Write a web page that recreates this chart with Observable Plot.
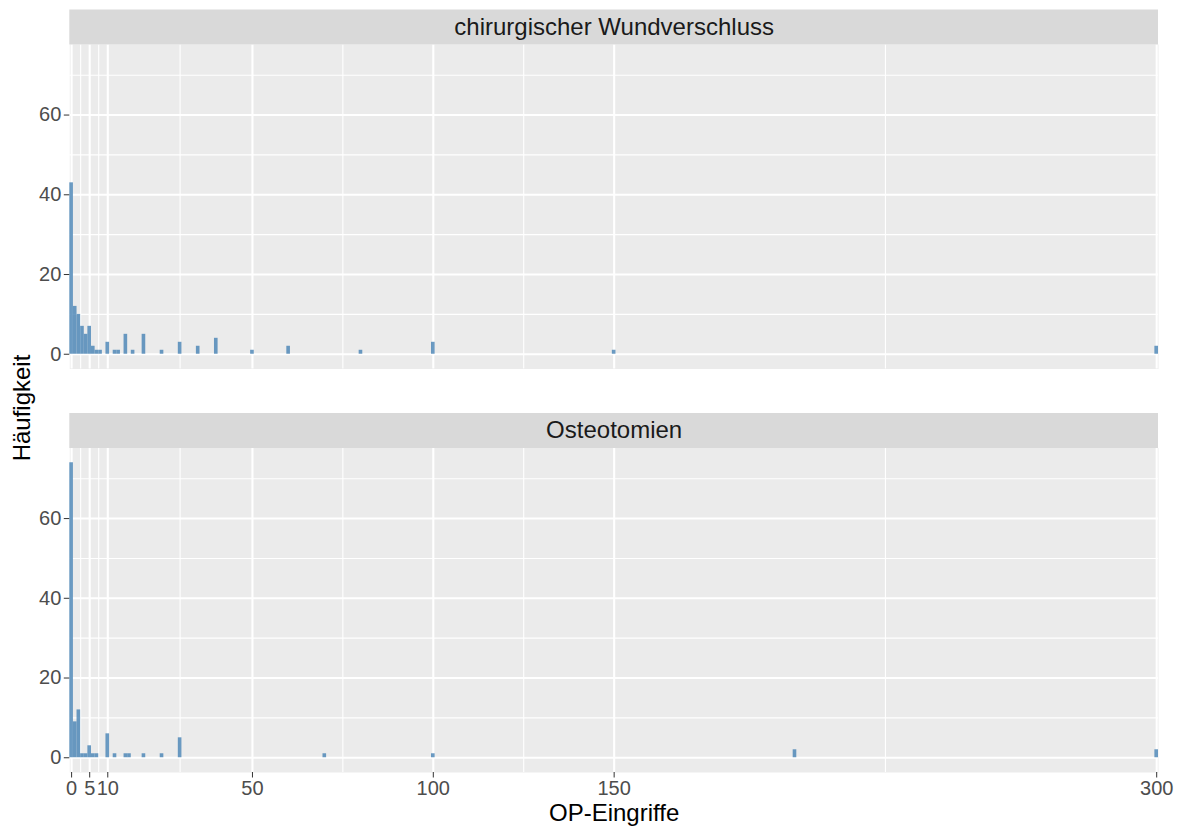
<!DOCTYPE html>
<html>
<head>
<meta charset="utf-8">
<script src="https://cdn.jsdelivr.net/npm/d3@7"></script>
<script src="https://cdn.jsdelivr.net/npm/@observablehq/plot@0.6"></script>
<style>
  html, body { margin: 0; padding: 0; background: #ffffff; }
  #wrap { position: relative; width: 1182px; height: 827px; font-family: "Liberation Sans", Arial, sans-serif; }
  #ylab { position: absolute; left: 22px; top: 408px; transform: translate(-50%, -50%) rotate(-90deg); font-size: 24px; color: #000; white-space: nowrap; }
</style>
</head>
<body>
<div id="wrap"><div id="ylab">Häufigkeit</div></div>
<script>
const panels = ["chirurgischer Wundverschluss", "Osteotomien"];

const woundValues = [0, 1, 2, 3, 4, 5, 6, 7, 8, 10, 12, 13, 15, 17, 20, 25, 30, 35, 40, 50, 60, 80, 100, 150, 300];
const woundCounts = [43, 12, 10, 7, 5, 7, 2, 1, 1, 3, 1, 1, 5, 1, 5, 1, 3, 2, 4, 1, 2, 1, 3, 1, 2];

const osteoValues = [0, 1, 2, 3, 4, 5, 6, 7, 10, 12, 15, 16, 20, 25, 30, 70, 100, 200, 300];
const osteoCounts = [74, 9, 12, 1, 1, 3, 1, 1, 6, 1, 1, 1, 1, 1, 5, 1, 1, 2, 2];

const xTicks = [0, 5, 10, 50, 100, 150, 300];
const xMinor = [2.5, 7.5, 30, 75, 125, 225];
const yTicks = [0, 20, 40, 60];
const yMinor = [10, 30, 50, 70];

const xTitle = "OP-Eingriffe";

const bars = [
  ...woundValues.map((v, i) => ({panel: panels[0], value: v, count: woundCounts[i]})),
  ...osteoValues.map((v, i) => ({panel: panels[1], value: v, count: osteoCounts[i]}))
];

const maxCount = d3.max(bars, d => d.count);
const yPad = maxCount * 0.05;
const yDomain = [-yPad, maxCount + yPad];

const chart = Plot.plot({
  width: 1182,
  height: 827,
  marginLeft: 69.3,
  marginRight: 24,
  marginTop: 44,
  marginBottom: 55,
  style: {fontFamily: "'Liberation Sans', Arial, sans-serif", background: "#ffffff"},
  x: {domain: [-0.5, 300.5], axis: null},
  y: {domain: yDomain, axis: null},
  fy: {domain: panels, paddingInner: 0.1958, paddingOuter: 0, round: false, axis: null},
  marks: [
    Plot.frame({fill: "#EBEBEB", stroke: null}),
    Plot.ruleX(xMinor, {stroke: "#ffffff", strokeWidth: 1.1}),
    Plot.ruleY(yMinor, {stroke: "#ffffff", strokeWidth: 1.1}),
    Plot.ruleX(xTicks, {stroke: "#ffffff", strokeWidth: 2.1}),
    Plot.ruleY(yTicks, {stroke: "#ffffff", strokeWidth: 2.1}),
    Plot.rectY(bars, {
      x1: d => d.value - 0.5,
      x2: d => d.value + 0.5,
      y: "count",
      fy: "panel",
      fill: "#4682B4",
      fillOpacity: 0.8,
      inset: 0
    }),
    Plot.ruleY([yDomain[1]], {stroke: "#D9D9D9", strokeWidth: 35, dy: -17.5}),
    Plot.text(panels, {
      fy: d => d,
      text: d => d,
      frameAnchor: "top",
      lineAnchor: "middle",
      dy: -17.5,
      fontSize: 24,
      fill: "#1A1A1A"
    }),
    Plot.axisY({
      ticks: yTicks,
      tickSize: 5.5,
      tickPadding: 3,
      fontSize: 20,
      stroke: "#333333",
      fill: "#4D4D4D",
      label: null
    }),
    Plot.axisX({
      ticks: xTicks,
      tickSize: 5.5,
      tickPadding: 3,
      fontSize: 20,
      stroke: "#333333",
      fill: "#4D4D4D",
      label: null
    }),
    Plot.text([panels[1]], {
      fy: d => d,
      text: () => xTitle,
      frameAnchor: "bottom",
      lineAnchor: "middle",
      dy: 41,
      fontSize: 24,
      fill: "#000000"
    })
  ]
});

document.getElementById("wrap").appendChild(chart);
chart.style.position = "absolute";
chart.style.left = "0";
chart.style.top = "0";
document.getElementById("wrap").appendChild(document.getElementById("ylab"));
</script>
</body>
</html>
